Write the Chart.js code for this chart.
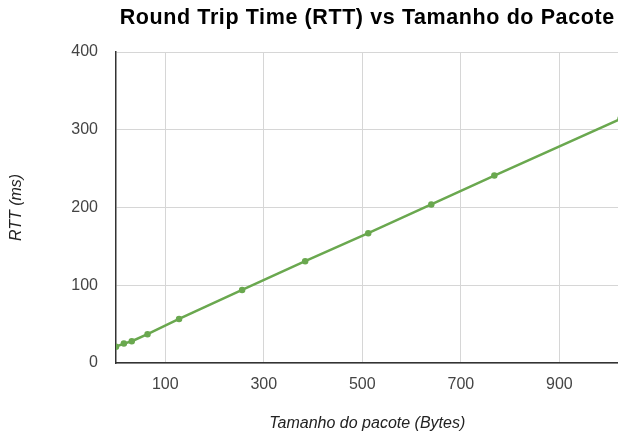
<!DOCTYPE html>
<html>
<head>
<meta charset="utf-8">
<script src="https://cdn.jsdelivr.net/npm/chart.js@4/dist/chart.umd.min.js"></script>
<style>
  html, body { margin: 0; padding: 0; background: #fff; overflow: hidden; }
  #rttChart { display: block; }
</style>
</head>
<body>
<canvas id="rttChart" width="624" height="436"></canvas>
<script>
// Data
const packetSizes = [0, 16, 32, 64, 128, 256, 384, 512, 640, 768, 1024];
const rttValues = [21, 25, 28, 37, 56.6, 94, 131, 167, 204, 241, 314];
const xTicks = [100, 300, 500, 700, 900];
const yTicks = [0, 100, 200, 300, 400];

const chartTitle = "Round Trip Time (RTT) vs Tamanho do Pacote";
const xTitle = "Tamanho do pacote (Bytes)";
const yTitle = "RTT (ms)";

const FONT = "'Liberation Sans', Arial, sans-serif";
const lineColor = "#6aa84f";

/** Title centered over the plot area (like the original) */
const centeredTitle = {
  id: "centeredTitle",
  afterDraw(chart) {
    const { ctx, chartArea } = chart;
    ctx.save();
    ctx.font = `bold 21.5px ${FONT}`;
    ctx.letterSpacing = "0.6px";
    ctx.fillStyle = "#000";
    ctx.textAlign = "center";
    ctx.textBaseline = "alphabetic";
    ctx.fillText(chartTitle, (chartArea.left + chartArea.right) / 2, 24);
    ctx.restore();
  },
};

const ctx = document.getElementById("rttChart");

new Chart(ctx, {
  type: "line",
  data: {
    datasets: [
      {
        label: "RTT",
        data: packetSizes.map((x, i) => ({ x: x, y: rttValues[i] })),
        borderColor: lineColor,
        backgroundColor: lineColor,
        borderWidth: 2.5,
        pointRadius: 2,
        pointHoverRadius: 3,
        tension: 0,
      },
    ],
  },
  options: {
    responsive: false,
    animation: false,
    layout: { padding: { top: 52, right: 0, left: 0, bottom: 0 } },
    plugins: {
      legend: { display: false },
      title: { display: false },
      tooltip: { enabled: false },
    },
    scales: {
      x: {
        type: "linear",
        min: 0,
        max: 1020,
        afterBuildTicks: (scale) => {
          scale.ticks = xTicks.map((v) => ({ value: v }));
        },
        afterFit: (scale) => {
          scale.height = 73;
        },
        grid: { color: "#d6d6d6", drawTicks: false },
        border: { color: "#333333", width: 1.5 },
        ticks: {
          padding: 12,
          color: "#444444",
          font: { family: FONT, size: 16 },
        },
        title: {
          display: true,
          text: xTitle,
          color: "#222222",
          padding: { top: 3, bottom: 3 },
          font: { family: FONT, size: 16, style: "italic" },
        },
      },
      y: {
        min: 0,
        max: 400,
        afterBuildTicks: (scale) => {
          scale.ticks = yTicks.map((v) => ({ value: v }));
        },
        afterFit: (scale) => {
          scale.width = 116;
        },
        grid: { color: "#d6d6d6", drawTicks: false },
        border: { color: "#333333", width: 1.5 },
        ticks: {
          padding: 18,
          color: "#444444",
          font: { family: FONT, size: 16 },
        },
        title: {
          display: true,
          text: yTitle,
          color: "#222222",
          padding: { top: 7, bottom: 7 },
          font: { family: FONT, size: 16, style: "italic" },
        },
      },
    },
  },
  plugins: [centeredTitle],
});
</script>
</body>
</html>
